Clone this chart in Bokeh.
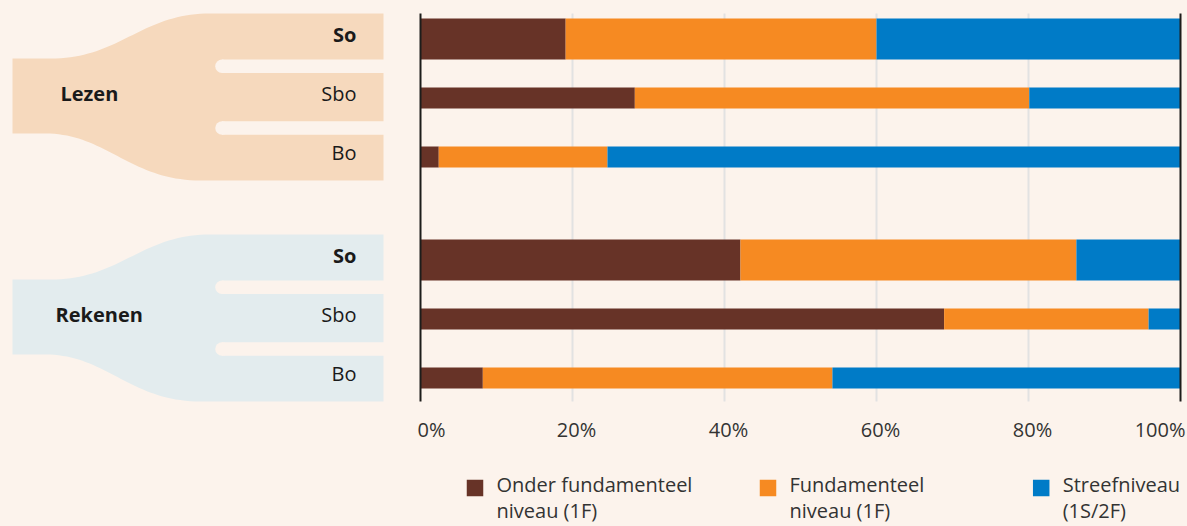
import numpy as np
from bokeh.plotting import figure
from bokeh.models import Range1d, ColumnDataSource
from bokeh.core.properties import value
from bokeh.embed import file_html
from bokeh.resources import INLINE

# ---------------- data ----------------
subjects = ["Lezen", "Rekenen"]
school_types = ["So", "Sbo", "Bo"]
# percentages, order: Lezen So, Sbo, Bo, Rekenen So, Sbo, Bo
onder_fundamenteel = [19.1, 28.2, 2.4, 42.1, 68.9, 8.2]
fundamenteel = [40.9, 51.9, 22.2, 44.2, 26.9, 46.0]
streefniveau = [40.0, 19.9, 75.4, 13.7, 4.2, 45.8]
series_labels = ["Onder fundamenteel\nniveau (1F)", "Fundamenteel\nniveau (1F)", "Streefniveau\n(1S/2F)"]
x_ticks = [0, 20, 40, 60, 80, 100]
tick_labels = ["0%", "20%", "40%", "60%", "80%", "100%"]

# ---------------- style ----------------
BG = "#fcf3ec"
SHAPE_COLORS = ["#f6d9bd", "#e3ecee"]
SERIES_COLORS = ["#673327", "#f68a22", "#007bc7"]
GRID = "#e2e2e2"
AXIS = "#1d1d1b"
TXT = "#1a1a1a"
TICK_TXT = "#333333"
FONT = value("Open Sans")
FS = "20px"
TY = -2.8   # vertical text correction

W, H = 1187, 526
X0, X100 = 420, 1180            # pixel positions of 0% and 100%
s = (X100 - X0) / 100.0
GROUP_STEP = 221
ROW_STEP = 59
ROW0 = 38.5

p = figure(width=W, height=H, x_range=Range1d(-X0 / s, (W - X0) / s),
           y_range=Range1d(H, 0), output_backend="svg", toolbar_location=None,
           x_axis_location=None, y_axis_location=None, min_border=0)
p.extra_x_ranges = {"px": Range1d(0, W)}
p.grid.visible = False
p.outline_line_color = None
p.background_fill_color = BG
p.border_fill_color = BG


def bezier(p0, p1, p2, p3, n=40):
    t = np.linspace(0, 1, n)[:, None]
    pts = ((1 - t) ** 3) * np.array(p0) + 3 * ((1 - t) ** 2) * t * np.array(p1) \
        + 3 * (1 - t) * t ** 2 * np.array(p2) + t ** 3 * np.array(p3)
    return pts[:, 0], pts[:, 1]


# ---------------- fork shapes ----------------
for g, subj in enumerate(subjects):
    y0 = GROUP_STEP * g
    tx, ty = bezier((50, y0 + 58), (120, y0 + 58), (140, y0 + 13), (210, y0 + 13))
    bx, by = bezier((45, y0 + 133), (105, y0 + 133), (130, y0 + 180), (200, y0 + 180))
    xs = [12] + list(tx) + [383, 383] + list(bx[::-1]) + [12]
    ys = [y0 + 58] + list(ty) + [y0 + 13, y0 + 180] + list(by[::-1]) + [y0 + 133]
    p.patch(xs, ys, fill_color=SHAPE_COLORS[g], line_color=None, x_range_name="px")
    for gc in (65.7, 127.5):
        p.quad(left=221.5, right=390, top=y0 + gc - 6.75, bottom=y0 + gc + 6.75,
               fill_color=BG, line_color=None, x_range_name="px")
        p.scatter(x=[221.5], y=[y0 + gc], size=13.5, marker="circle",
                  fill_color=BG, line_color=None, x_range_name="px")
    # subject label
    p.text(x=[[60, 55][g]], y=[95.3 + y0 + TY], text=[subj], text_font=FONT,
           text_font_size=FS, text_font_style="bold", text_color=TXT,
           text_align="left", text_baseline="middle", x_range_name="px")

# ---------------- grid ----------------
p.segment(x0=x_ticks[1:-1], y0=13, x1=x_ticks[1:-1], y1=401, line_color=GRID, line_width=2)

# ---------------- bars ----------------
ys, hs, labels = [], [], []
for g in range(len(subjects)):
    for i, st in enumerate(school_types):
        ys.append(ROW0 + GROUP_STEP * g + ROW_STEP * i)
        hs.append(41 if i == 0 else 21)
        labels.append(st)
src = ColumnDataSource(dict(y=ys, h=hs, onder=onder_fundamenteel,
                            fund=fundamenteel, streef=streefniveau))
p.hbar_stack(["onder", "fund", "streef"], y="y", height="h",
             fill_color=SERIES_COLORS, line_color=None, source=src)

# axis lines at 0% and 100%
p.segment(x0=[0, 100], y0=13, x1=[0, 100], y1=401, line_color=AXIS, line_width=2)

# school-type labels
for yv, lab in zip(ys, labels):
    p.text(x=[356], y=[yv - 1.8 + TY], text=[lab], text_font=FONT, text_font_size=FS,
           text_font_style="bold" if lab == "So" else "normal", text_color=TXT,
           text_align="right", text_baseline="middle", x_range_name="px")

# ---------------- tick labels ----------------
for k, (xt, tl) in enumerate(zip(x_ticks, tick_labels)):
    if k == 0:
        al, off = "left", -3
    elif k == len(x_ticks) - 1:
        al, off = "right", 5
    else:
        al, off = "center", 4
    p.text(x=[xt], y=[431.3 + TY], text=[tl], text_font=FONT, text_font_size=FS,
           text_color=TICK_TXT, text_align=al, text_baseline="middle", x_offset=off)

# ---------------- legend ----------------
leg_x = [474.5, 767.5, 1040.7]
for lx, lab, col in zip(leg_x, series_labels, SERIES_COLORS):
    p.scatter(x=[lx], y=[487.5], marker="square", size=16.5, fill_color=col,
              line_color=None, x_range_name="px")
    lines = lab.split("\n")
    p.text(x=[lx + 21.5] * len(lines), y=[486.3 + TY + 26 * j for j in range(len(lines))],
           text=lines, text_font=FONT, text_font_size=FS, text_color=TICK_TXT,
           text_align="left", text_baseline="middle", x_range_name="px")

html = file_html(p, INLINE, title="Lezen en rekenen")
html = html.replace("<head>", "<head><style>html,body{margin:0;padding:0;background:%s;overflow:hidden;}</style>" % BG, 1)
open("out.html", "w").write(html)
